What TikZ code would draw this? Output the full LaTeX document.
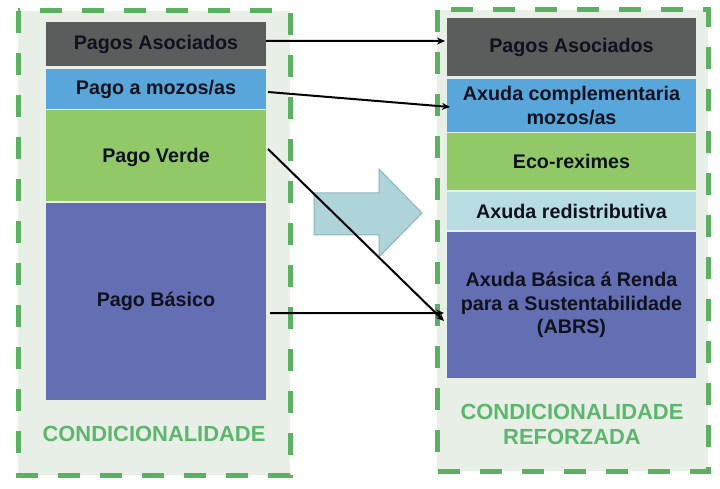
\documentclass[tikz,border=0pt]{standalone}
\usepackage{fontspec}
\setmainfont{Liberation Sans}
\usetikzlibrary{arrows.meta}
\definecolor{cdark}{RGB}{90,93,92}
\definecolor{cblue}{RGB}{88,166,218}
\definecolor{cgreen}{RGB}{146,201,104}
\definecolor{clight}{RGB}{183,220,226}
\definecolor{cpurple}{RGB}{100,110,178}
\definecolor{cdash}{RGB}{92,176,98}
\definecolor{ctext}{RGB}{92,182,110}
\definecolor{cfill}{RGB}{232,239,231}
\definecolor{cbigfill}{RGB}{174,212,218}
\definecolor{cbigdraw}{RGB}{140,180,190}
\definecolor{cink}{RGB}{15,18,30}
\tikzset{
  container/.style={draw=cdash, fill=cfill, line width=5bp, dash pattern=on 22bp off 20bp},
  box/.style={inner sep=0pt, outer sep=0pt, text=cink, align=center,
    font=\fontsize{19.8}{23.5}\selectfont\bfseries},
  condlabel/.style={inner sep=0pt, text=ctext, align=center,
    font=\fontsize{22}{25}\selectfont\bfseries},
  conn/.style={draw=black, line width=2bp, -{Stealth[length=8bp,width=7bp]}},
  bigarrow/.style={fill=cbigfill, draw=cbigdraw, line width=1bp}
}
\begin{document}
\begin{tikzpicture}[x=1bp,y=-1bp]
\useasboundingbox (0,0) rectangle (720,489);
\fill[white] (0,0) rectangle (720,489);
% containers
\draw[container] (18,11) rectangle (290,475);
\draw[container] (437,10) rectangle (708,471);
% big arrow
\draw[bigarrow] (314,193) -- (379,193) -- (379,169) -- (422,213) -- (379,257) -- (379,235) -- (314,235) -- cycle;
% left boxes
\node[box, fill=cdark, minimum width=220bp, minimum height=44bp] (pa1) at (156,44) {Pagos Asociados};
\node[box, fill=cblue, minimum width=220bp, minimum height=40bp] (mo1) at (156,89) {Pago a mozos/as};
\node[box, fill=cgreen, minimum width=220bp, minimum height=91bp] (pv1) at (156,155.5) {};
\node[box] (pvt) at (156,157.5) {Pago Verde};
\node[box, fill=cpurple, minimum width=220bp, minimum height=197bp] (pb1) at (156,301.5) {Pago Básico};
\node[condlabel] (cl1) at (154,434) {CONDICIONALIDADE};
% right boxes
\node[box, fill=cdark, minimum width=249bp, minimum height=58bp] (pa2) at (571.5,47) {Pagos Asociados};
\node[box, fill=cblue, minimum width=249bp, minimum height=53bp] (cm2) at (571.5,105.5) {Axuda complementaria\\mozos/as};
\node[box, fill=cgreen, minimum width=249bp, minimum height=57bp] (ec2) at (571.5,161.5) {Eco-reximes};
\node[box, fill=clight, minimum width=249bp, minimum height=38bp] (rd2) at (571.5,211) {Axuda redistributiva};
\node[box, fill=cpurple, minimum width=249bp, minimum height=146bp] (ab2) at (571.5,305) {Axuda Básica á Renda\\para a Sustentabilidade\\(ABRS)};
\node[condlabel] (cl2) at (572,424.5) {CONDICIONALIDADE\\REFORZADA};
% connectors
\draw[conn] ([yshift=3bp]pa1.east) -- ([xshift=-2bp,yshift=6bp]pa2.west);
\draw[conn] ([xshift=2bp,yshift=-3bp]mo1.east) -- ([xshift=3bp,yshift=-1.5bp]cm2.west);
\draw[conn] ([xshift=2bp,yshift=6.5bp]pv1.east) -- ([xshift=-3bp,yshift=-16bp]ab2.west);
\draw[conn] ([xshift=4bp,yshift=-11.5bp]pb1.east) -- ([xshift=-3bp,yshift=-8bp]ab2.west);
\end{tikzpicture}
\end{document}
